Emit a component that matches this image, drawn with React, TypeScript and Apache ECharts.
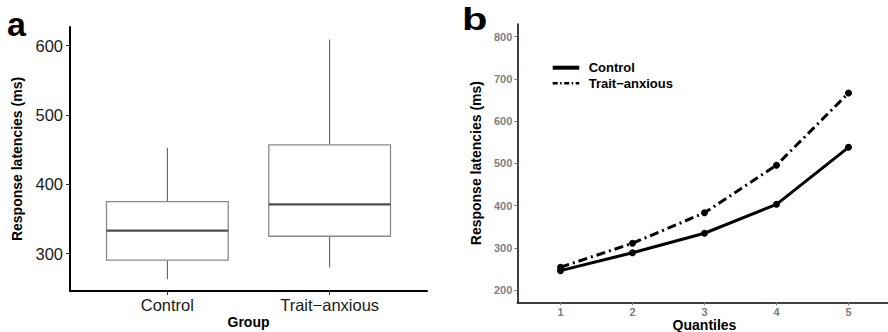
import React, { useEffect, useRef } from "react";
import * as echarts from "echarts";

// ---- Panel a: box plot data (ms) ----
const groups = ["Control", "Trait\u2212anxious"];
const boxLow = [263, 280];
const boxQ1 = [290.5, 325];
const boxMedian = [333, 371];
const boxQ3 = [375, 457];
const boxHigh = [452.5, 609];
const aTicks = [300, 400, 500, 600];

// ---- Panel b: quantile lines (ms) ----
const quantiles = [1, 2, 3, 4, 5];
const controlRT = [246, 288.5, 334.5, 403, 538];
const traitRT = [254, 310.7, 383, 495.7, 666.5];
const bTicks = [200, 300, 400, 500, 600, 700, 800];

const FONT = "'Liberation Sans', Arial, sans-serif";

export default function App() {
  const ref = useRef<HTMLDivElement>(null);

  useEffect(() => {
    if (!ref.current) return;
    const chart = echarts.init(ref.current, null, { renderer: "svg" });

    const boxData = groups.map((_, i) => [
      i + 1,
      boxLow[i],
      boxQ1[i],
      boxMedian[i],
      boxQ3[i],
      boxHigh[i],
    ]);

    const option: any = {
      animation: false,
      backgroundColor: "#ffffff",
      textStyle: { fontFamily: FONT },
      grid: [
        { left: 70, top: 27, width: 357, height: 264, containLabel: false, outerBoundsMode: "none" },
        { left: 517.3, top: 24, width: 374.4, height: 278.3, containLabel: false, outerBoundsMode: "none" },
      ],
      xAxis: [
        {
          type: "value",
          gridIndex: 0,
          min: 0.4,
          max: 2.6,
          splitLine: { show: false },
          axisLine: { show: true, lineStyle: { color: "#000", width: 2 } },
          axisTick: { show: true, customValues: [1, 2], length: 4, lineStyle: { color: "#333", width: 1 } },
          axisLabel: {
            customValues: [1, 2],
            formatter: (v: number) => groups[Math.round(v) - 1] ?? "",
            color: "#1a1a1a",
            fontSize: 16.5,
            fontFamily: FONT,
            margin: 5,
          },
          name: "Group",
          nameLocation: "middle",
          nameGap: 24,
          nameMoveOverlap: false,
          nameTextStyle: { fontSize: 14, lineHeight: 14, fontWeight: "bold", color: "#000", fontFamily: FONT },
        },
        {
          type: "value",
          gridIndex: 1,
          min: 0.4,
          max: 5.6,
          splitLine: { show: false },
          axisLine: { show: true, lineStyle: { color: "#000", width: 1.5 } },
          axisTick: { show: true, customValues: quantiles, length: 3, lineStyle: { color: "#808080", width: 1 } },
          axisLabel: {
            customValues: quantiles,
            color: "#7f7f7f",
            fontSize: 11,
            lineHeight: 11,
            fontWeight: "bold",
            fontFamily: FONT,
            margin: 4,
          },
          name: "Quantiles",
          nameLocation: "middle",
          nameGap: 15.5,
          nameMoveOverlap: false,
          nameTextStyle: { fontSize: 14, lineHeight: 14, fontWeight: "bold", color: "#000", fontFamily: FONT },
        },
      ],
      yAxis: [
        {
          type: "value",
          gridIndex: 0,
          min: 246,
          max: 627,
          splitLine: { show: false },
          axisLine: { show: true, lineStyle: { color: "#000", width: 2 } },
          axisTick: { show: true, customValues: aTicks, length: 4, lineStyle: { color: "#333", width: 1 } },
          axisLabel: {
            customValues: aTicks,
            color: "#1a1a1a",
            fontSize: 16.5,
            fontFamily: FONT,
            margin: 7,
          },
          name: "Response latencies (ms)",
          nameLocation: "middle",
          nameRotate: 90,
          nameGap: 46,
          nameMoveOverlap: false,
          nameTextStyle: { fontSize: 14, fontWeight: "bold", color: "#000", fontFamily: FONT },
        },
        {
          type: "value",
          gridIndex: 1,
          min: 171,
          max: 830,
          splitLine: { show: false },
          axisLine: { show: true, lineStyle: { color: "#000", width: 1.5 } },
          axisTick: { show: true, customValues: bTicks, length: 3, lineStyle: { color: "#808080", width: 1 } },
          axisLabel: {
            customValues: bTicks,
            color: "#7f7f7f",
            fontSize: 11,
            fontWeight: "bold",
            fontFamily: FONT,
            margin: 5,
          },
          name: "Response latencies (ms)",
          nameLocation: "middle",
          nameRotate: 90,
          nameGap: 34,
          nameMoveOverlap: false,
          nameTextStyle: { fontSize: 14, fontWeight: "bold", color: "#000", fontFamily: FONT },
        },
      ],
      series: [
        {
          type: "custom",
          name: "Boxplot",
          xAxisIndex: 0,
          yAxisIndex: 0,
          data: boxData,
          encode: { x: 0, y: [1, 2, 3, 4, 5] },
          renderItem: (params: any, api: any) => {
            const x = api.value(0);
            const pLow = api.coord([x, api.value(1)]);
            const pQ1 = api.coord([x, api.value(2)]);
            const pMed = api.coord([x, api.value(3)]);
            const pQ3 = api.coord([x, api.value(4)]);
            const pHigh = api.coord([x, api.value(5)]);
            const halfW = api.size([0.75, 0])[0] / 2;
            const cx = pMed[0];
            return {
              type: "group",
              children: [
                {
                  type: "line",
                  shape: { x1: cx, y1: pLow[1], x2: cx, y2: pQ1[1] },
                  style: { stroke: "#555", lineWidth: 1 },
                },
                {
                  type: "line",
                  shape: { x1: cx, y1: pQ3[1], x2: cx, y2: pHigh[1] },
                  style: { stroke: "#555", lineWidth: 1 },
                },
                {
                  type: "rect",
                  shape: { x: cx - halfW, y: pQ3[1], width: halfW * 2, height: pQ1[1] - pQ3[1] },
                  style: { fill: "#ffffff", stroke: "#8a8a8a", lineWidth: 1.3 },
                },
                {
                  type: "line",
                  shape: { x1: cx - halfW, y1: pMed[1], x2: cx + halfW, y2: pMed[1] },
                  style: { stroke: "#4d4d4d", lineWidth: 2.2 },
                },
              ],
            };
          },
        },
        {
          type: "line",
          name: "Control",
          xAxisIndex: 1,
          yAxisIndex: 1,
          data: quantiles.map((q, i) => [q, controlRT[i]]),
          symbol: "circle",
          symbolSize: 7,
          showSymbol: true,
          itemStyle: { color: "#000" },
          lineStyle: { color: "#000", width: 3 },
        },
        {
          type: "line",
          name: "Trait\u2212anxious",
          xAxisIndex: 1,
          yAxisIndex: 1,
          data: quantiles.map((q, i) => [q, traitRT[i]]),
          symbol: "circle",
          symbolSize: 7,
          showSymbol: true,
          itemStyle: { color: "#000" },
          lineStyle: { color: "#000", width: 3, type: [9, 4, 2, 4] },
        },
      ],
      graphic: [
        {
          type: "text",
          left: 7,
          top: 7,
          style: { text: "a", fontSize: 34, fontWeight: "bold", fill: "#000", fontFamily: FONT },
        },
        {
          type: "text",
          left: 462,
          top: 3,
          scaleX: 1.3,
          style: { text: "b", fontSize: 32, fontWeight: "bold", fill: "#000", fontFamily: FONT },
        },
        {
          type: "line",
          shape: { x1: 552.7, y1: 67.7, x2: 579.3, y2: 67.7 },
          style: { stroke: "#000", lineWidth: 4 },
        },
        {
          type: "line",
          shape: { x1: 552.7, y1: 83.3, x2: 579.3, y2: 83.3 },
          style: { stroke: "#000", lineWidth: 2.6, lineDash: [5, 2.5, 1.5, 2.5] },
        },
        {
          type: "text",
          x: 588.7,
          y: 67.7,
          style: {
            text: "Control",
            fontSize: 13,
            fontWeight: "bold",
            fill: "#000",
            fontFamily: FONT,
            verticalAlign: "middle",
            align: "left",
          },
        },
        {
          type: "text",
          x: 588.7,
          y: 83.3,
          style: {
            text: "Trait\u2212anxious",
            fontSize: 13,
            fontWeight: "bold",
            fill: "#000",
            fontFamily: FONT,
            verticalAlign: "middle",
            align: "left",
          },
        },
      ],
    };

    chart.setOption(option);
    return () => chart.dispose();
  }, []);

  return (
    <div
      ref={ref}
      style={{ position: "fixed", left: 0, top: 0, width: 888, height: 332, background: "#fff" }}
    />
  );
}
